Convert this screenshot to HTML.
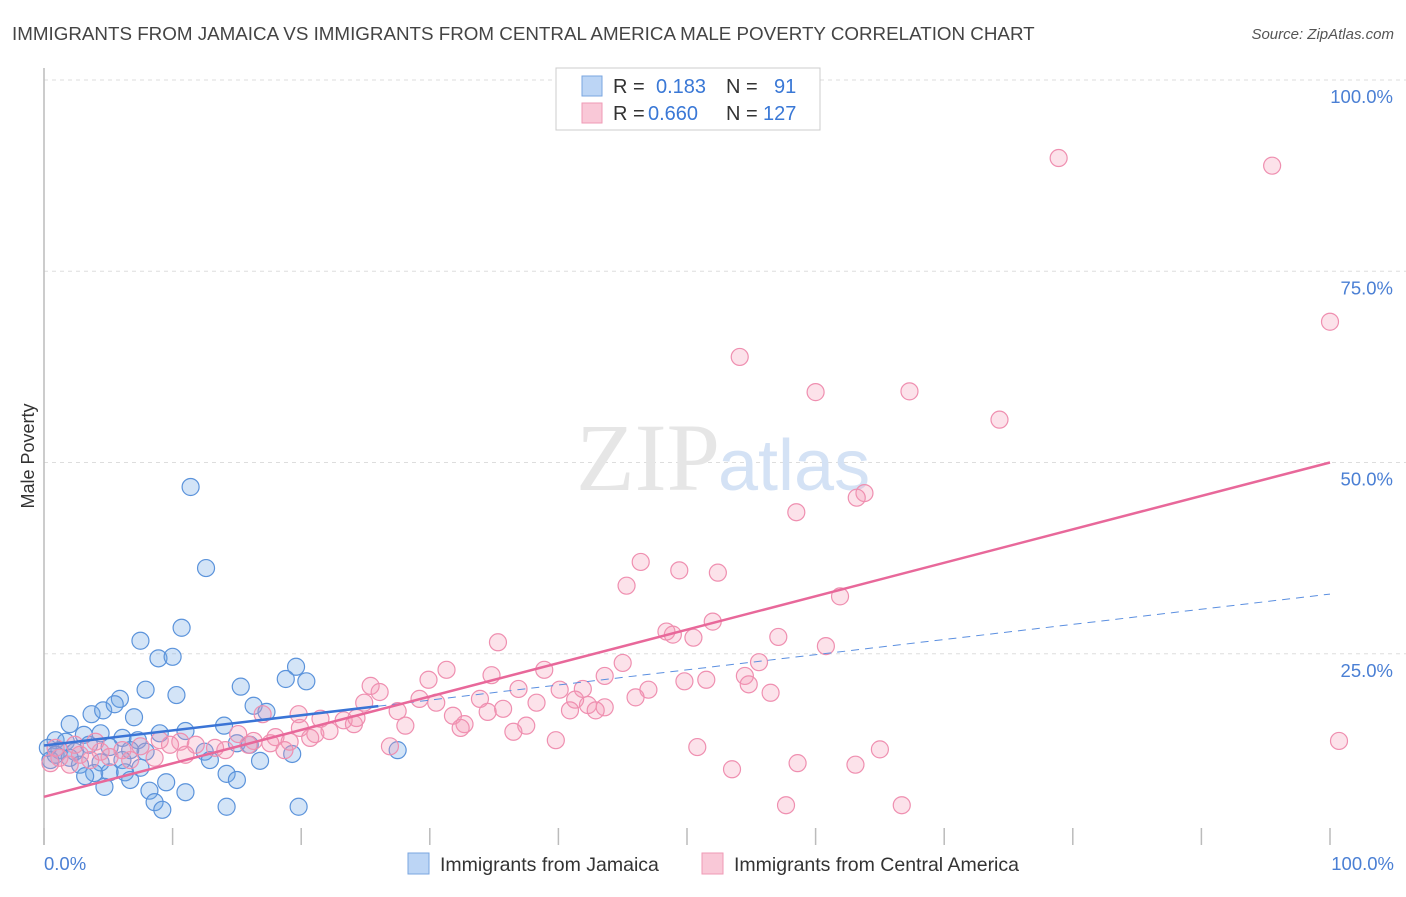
<!DOCTYPE html>
<html><head><meta charset="utf-8"><style>
body{margin:0;background:#fff;font-family:"Liberation Sans",sans-serif}
</style></head><body>
<svg width="1406" height="892" xmlns="http://www.w3.org/2000/svg">
<text x="12" y="40" font-size="18.8" fill="#444">IMMIGRANTS FROM JAMAICA VS IMMIGRANTS FROM CENTRAL AMERICA MALE POVERTY CORRELATION CHART</text>
<text x="1394" y="39" font-size="15" fill="#555" font-style="italic" text-anchor="end">Source: ZipAtlas.com</text>
<g id="grid"></g>
<text x="720" y="490" font-size="96" fill="#e6e6e6" text-anchor="end" font-family="Liberation Serif">ZIP</text>
<text x="718" y="490" font-size="72" fill="#d4e2f5">atlas</text>
<line x1="44" y1="68" x2="44" y2="845" stroke="#bbb" stroke-width="1.5"/>
<text transform="translate(34,456) rotate(-90)" font-size="18" fill="#333" text-anchor="middle">Male Poverty</text>
<text x="44" y="870" font-size="18.5" fill="#4a7fd4">0.0%</text>
<text x="1394" y="870" font-size="18.5" fill="#4a7fd4" text-anchor="end">100.0%</text>
<g id="pts"></g>
<g id="lines"></g>
<g>
<rect x="556" y="68" width="264" height="62" fill="#fff" stroke="#ccc"/>
<rect x="582" y="76" width="20" height="20" fill="#bcd5f5" stroke="#7aa6e0"/>
<rect x="582" y="103" width="20" height="20" fill="#f9c8d7" stroke="#ef9ab5"/>
<text x="613" y="93" font-size="20" fill="#333">R = <tspan x="656" fill="#3a78d6">0.183</tspan><tspan x="726">N = </tspan><tspan x="774" fill="#3a78d6">91</tspan></text>
<text x="613" y="120" font-size="20" fill="#333">R = <tspan x="648" fill="#3a78d6">0.660</tspan><tspan x="726">N = </tspan><tspan x="763" fill="#3a78d6">127</tspan></text>
</g>
<g>
<rect x="408" y="853" width="21" height="21" fill="#bcd5f5" stroke="#7aa6e0"/>
<text x="440" y="871" font-size="19.5" fill="#333">Immigrants from Jamaica</text>
<rect x="702" y="853" width="21" height="21" fill="#f9c8d7" stroke="#ef9ab5"/>
<text x="734" y="871" font-size="19.5" fill="#333">Immigrants from Central America</text>
</g>
</svg>
<script>
const yTicks=[25,50,75,100];
const yTickLabels=["25.0%","50.0%","75.0%","100.0%"];
const xTicks=[0,10,20,30,40,50,60,70,80,90,100];
const blueX=[11.4,12.6,10.7,7.5,8.9,10.0,19.6,15.3,18.8,20.4,7.9,10.3,5.9,3.7,4.6,5.5,7.0,2.0,16.3,17.3,11.0,14.0,4.4,3.1,9.0,6.1,7.3,0.9,1.7,15.0,16.0,3.5,5.1,0.3,1.2,2.4,6.7,7.9,12.5,12.9,19.3,16.8,27.5,6.1,4.4,2.8,7.5,6.3,3.9,3.2,5.1,14.2,15.0,9.5,6.7,4.7,8.2,11.0,8.6,9.2,14.2,19.8,0.5,0.9,2.0];
const blueY=[46.8,36.2,28.4,26.7,24.4,24.6,23.3,20.7,21.7,21.4,20.3,19.6,19.1,17.1,17.6,18.4,16.7,15.8,18.2,17.4,14.9,15.6,14.6,14.4,14.6,14.0,13.7,13.7,13.5,13.3,13.1,13.1,12.8,12.7,12.4,12.2,12.4,12.2,12.2,11.1,11.9,11.0,12.4,11.1,10.8,10.5,10.1,9.5,9.4,9.0,9.5,9.3,8.5,8.2,8.5,7.6,7.1,6.9,5.6,4.6,5.0,5.0,11.1,11.8,11.4];
const pinkX=[78.9,95.5,100,54.1,60.0,67.3,74.3,63.8,63.2,58.5,46.4,49.4,52.4,45.3,61.9,52.0,48.4,48.9,50.5,57.1,60.8,35.3,55.6,45.0,38.9,31.3,34.8,43.6,54.5,49.8,51.5,29.9,25.4,26.1,36.9,40.1,41.9,47.0,54.8,56.5,46.0,33.9,29.2,30.5,24.9,41.3,42.3,43.6,38.3,35.7,34.5,40.9,42.9,27.5,31.8,32.7,32.4,28.1,19.8,17.0,21.5,23.3,24.1,24.3,37.5,36.5,19.9,21.1,22.2,18.0,15.1,17.6,16.3,39.8,26.9,50.8,65.0,100.7,53.5,58.6,63.1,57.7,66.7,9.0,10.6,11.8,13.3,7.5,6.1,4.4,2.8,1.2,0.5,2.0,3.6,5.1,6.7,8.6,11.0,14.1,15.9,9.8,19.1,20.7,18.7,0.9,2.4,4.0];
const pinkY=[89.8,88.8,68.4,63.8,59.2,59.3,55.6,46.0,45.4,43.5,37.0,35.9,35.6,33.9,32.5,29.2,27.9,27.5,27.1,27.2,26.0,26.5,23.9,23.8,22.9,22.9,22.2,22.1,22.1,21.4,21.6,21.6,20.8,20.0,20.4,20.3,20.4,20.3,21.0,19.9,19.3,19.1,19.1,18.6,18.6,19.0,18.3,18.0,18.6,17.8,17.4,17.6,17.6,17.5,16.9,15.8,15.3,15.6,17.1,17.1,16.5,16.3,15.8,16.6,15.6,14.8,15.3,14.5,14.9,14.1,14.5,13.3,13.6,13.7,12.9,12.8,12.5,13.6,9.9,10.7,10.5,5.2,5.2,13.7,13.5,13.1,12.7,12.9,12.4,12.2,11.8,11.4,10.7,10.5,11.1,11.5,11.1,11.4,11.8,12.4,13.1,13.1,13.5,14.0,12.4,12.7,13.1,13.5];
const blueTrend=[13.0,32.8];
const pinkTrend=[6.3,50.0];
const NS="http://www.w3.org/2000/svg";
const xs=v=>44+v*12.86, ys=v=>845-v*7.65;
function mk(t,a){const e=document.createElementNS(NS,t);for(const k in a)e.setAttribute(k,a[k]);return e;}
const grid=document.getElementById('grid');
yTicks.forEach((t,i)=>{
 const l=mk('line',{x1:44,x2:1420,y1:ys(t),y2:ys(t),stroke:'#ddd','stroke-dasharray':'4,4'});
 
 
 grid.appendChild(l);
 const tx=mk('text',{x:1393,y:ys(t)+23,'font-size':18.5,fill:'#4a7fd4','text-anchor':'end'});
 tx.textContent=yTickLabels[i];
 
 
 grid.appendChild(tx);
});
xTicks.forEach(t=>{
 const l=mk('line',{x1:xs(t),x2:xs(t),y1:828,y2:845,stroke:'#bbb','stroke-width':1.5});
 
 
 grid.appendChild(l);
});
const pts=document.getElementById('pts');
blueX.forEach((x,i)=>{
 const c=mk('circle',{cx:xs(x),cy:ys(blueY[i]),r:8.5,fill:'rgba(110,165,230,0.3)',stroke:'#5b93db','stroke-width':1.2});
 
 
 pts.appendChild(c);
});
pinkX.forEach((x,i)=>{
 const c=mk('circle',{cx:xs(x),cy:ys(pinkY[i]),r:8.5,fill:'rgba(245,150,180,0.28)',stroke:'#ef8fb0','stroke-width':1.2});
 
 
 pts.appendChild(c);
});
const lines=document.getElementById('lines');
const bt=x=>blueTrend[0]+(blueTrend[1]-blueTrend[0])*x/100;
let l1=mk('line',{x1:xs(0),y1:ys(bt(0)),x2:xs(26),y2:ys(bt(26)),stroke:'#3a74d6','stroke-width':2.5});


lines.appendChild(l1);
let l2=mk('line',{x1:xs(26),y1:ys(bt(26)),x2:xs(100),y2:ys(bt(100)),stroke:'#5b8fe0','stroke-width':1,'stroke-dasharray':'8,6'});


lines.appendChild(l2);
let l3=mk('line',{x1:xs(0),y1:ys(pinkTrend[0]),x2:xs(100),y2:ys(pinkTrend[1]),stroke:'#e8689a','stroke-width':2.5});


lines.appendChild(l3);
</script>
</body></html>
